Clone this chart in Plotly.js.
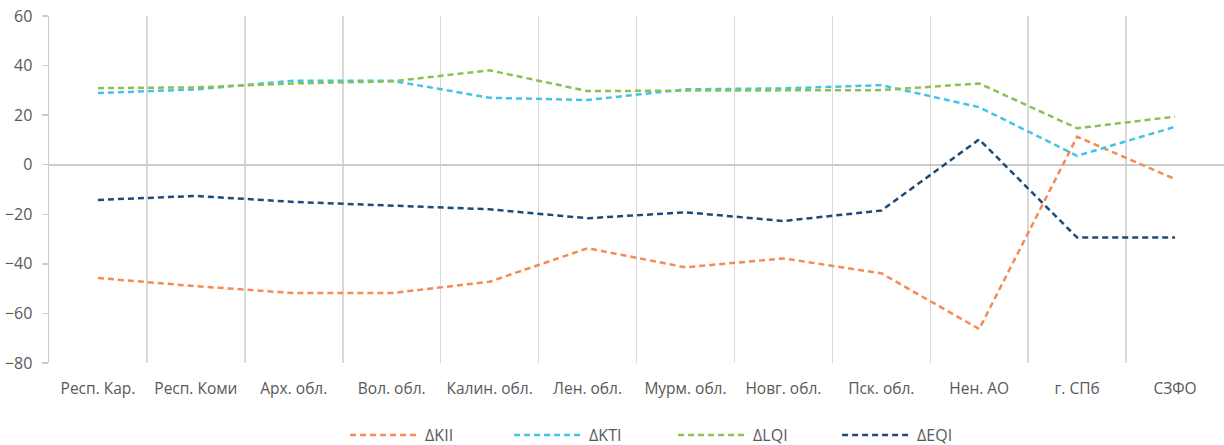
<!DOCTYPE html>
<html>
<head>
<meta charset="utf-8">
<script src="https://cdn.plot.ly/plotly-3.0.1.min.js"></script>
<style>html,body{margin:0;padding:0;background:#fff;}#chart{width:1224px;height:445px;}</style>
</head>
<body>
<div id="chart"></div>
<script>
const categories = ["Респ. Кар.", "Респ. Коми", "Арх. обл.", "Вол. обл.", "Калин. обл.", "Лен. обл.", "Мурм. обл.", "Новг. обл.", "Пск. обл.", "Нен. АО", "г. СПб", "СЗФО"];
const dKII = [-45.7, -49.0, -51.8, -51.8, -47.2, -33.7, -41.4, -37.8, -43.8, -66.3, 11.3, -5.8];
const dKTI = [28.9, 30.4, 33.9, 33.9, 27.0, 26.1, 30.4, 30.8, 32.1, 23.2, 3.6, 15.3];
const dLQI = [30.9, 31.2, 32.8, 33.6, 38.1, 29.7, 29.9, 30.1, 30.1, 32.8, 14.7, 19.4];
const dEQI = [-14.2, -12.6, -15.0, -16.6, -18.0, -21.6, -19.2, -22.7, -18.5, 10.2, -29.4, -29.4];
const yTicks = [-80, -60, -40, -20, 0, 20, 40, 60];

function tr(name, y, color) {
  return {type: 'scatter', mode: 'lines', name: name, x: categories, y: y,
    line: {color: color, width: 2.5, dash: '6px,4px'}};
}
const data = [
  tr('ΔKII', dKII, '#F68B52'),
  tr('ΔKTI', dKTI, '#41C4E9'),
  tr('ΔLQI', dLQI, '#8CC152'),
  tr('ΔEQI', dEQI, '#1E4A75')
];
const layout = {
  width: 1224, height: 445,
  margin: {l: 49, r: 0, t: 16, b: 82},
  paper_bgcolor: '#fff', plot_bgcolor: '#fff',
  font: {family: 'Open Sans, sans-serif', size: 14, color: '#595959'},
  showlegend: true,
  legend: {orientation: 'h', x: 0.252, xanchor: 'left', yref: 'container', y: 0.022, yanchor: 'middle',
    itemwidth: 70, entrywidth: 79, font: {size: 16, color: '#595959'}},
  xaxis: {type: 'category', range: [-0.5, 11.5], tickson: 'boundaries', automargin: false,
    showgrid: true, gridcolor: '#d9d9d9', gridwidth: 1.5, ticks: '', showline: false,
    zeroline: false, ticklabelstandoff: 14, tickfont: {size: 15.5, color: '#595959'}},
  yaxis: {range: [-80, 60], tickvals: yTicks, showgrid: false, zeroline: true, automargin: false,
    zerolinecolor: '#cccccc', zerolinewidth: 2, showline: true, linecolor: '#cccccc',
    linewidth: 1.5, ticks: 'outside', ticklen: 6, tickcolor: '#cccccc', tickwidth: 1.5,
    ticklabelstandoff: 6, tickfont: {size: 16, color: '#595959'}}
};
Plotly.newPlot('chart', data, layout, {displayModeBar: false, staticPlot: true});
</script>
</body>
</html>
